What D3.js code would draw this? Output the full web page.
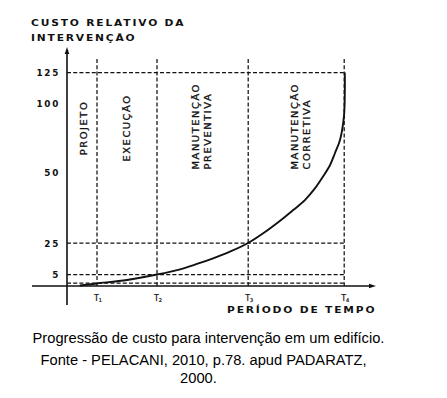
<!DOCTYPE html>
<html><head><meta charset="utf-8">
<script src="https://cdn.jsdelivr.net/npm/d3@7"></script>
<style>
html,body{margin:0;padding:0;background:#fff;}
svg{display:block;}
.wide{font-family:"DejaVu Sans",sans-serif;fill:#111;}
.cap{font-family:"Liberation Sans",Arial,sans-serif;fill:#000;font-size:14.7px;}
</style></head>
<body>
<script>
// ---------- data ----------
const yTitle = ["CUSTO RELATIVO DA", "INTERVENÇÃO"];
const xTitle = "PERÍODO DE TEMPO";
const yTicks = [5, 25, 50, 100, 125];
const yGridLevels = [1.2, 5, 25, 125];
const timeMarks = [1, 3, 6.04, 9.24];            // T1..T4
const timeLabels = ["1", "2", "3", "4"];
const phaseLabels = [["PROJETO"], ["EXECUÇÃO"], ["MANUTENÇÃO", "PREVENTIVA"], ["MANUTENÇÃO", "CORRETIVA"]];
const curveT =    [0.43, 1.0, 2.0, 3.0, 3.77, 4.33, 4.87, 5.43, 6.04, 6.54, 7.21, 7.54, 7.93, 8.27, 8.54, 8.77, 8.93, 9.1, 9.23, 9.26, 9.26];
const curveCost = [0.2,  1.1, 2.6, 5,   8.3,  11.7, 15.3, 19.5, 25,   28.4, 33.7, 36.6, 40.1, 44.3, 48.5, 55.1, 63.6, 73.2, 89.9, 108, 125];
const caption = ["Progressão de custo para intervenção em um edifício.",
                 "Fonte - PELACANI, 2010, p.78. apud PADARATZ,",
                 "2000."];

// ---------- layout ----------
const W = 447, H = 398;
const svg = d3.select("body").append("svg").attr("width", W).attr("height", H);

const x = d3.scaleLinear().domain([0, 10]).range([67, 367]);
// schematic (non-uniform) cost axis
const y = d3.scaleLinear().domain([0, 5, 25, 50, 100, 125]).range([286, 274.5, 243, 172, 103, 72.5]);

const ink = "#111";
const dash = "4,2.2";

function stretch(sel, f) {
  sel.each(function () {
    const L = this.getComputedTextLength();
    d3.select(this).attr("textLength", L * f).attr("lengthAdjust", "spacingAndGlyphs");
  });
}

// horizontal dashed guides
svg.append("g").selectAll("line").data(yGridLevels).join("line")
  .attr("x1", x(0)).attr("x2", x(timeMarks[3]))
  .attr("y1", d => y(d)).attr("y2", d => y(d))
  .attr("stroke", ink).attr("stroke-width", 1.25).attr("stroke-dasharray", dash);

// vertical dashed guides
svg.append("g").selectAll("line").data(timeMarks).join("line")
  .attr("x1", d => x(d)).attr("x2", d => x(d))
  .attr("y1", 59).attr("y2", y(0))
  .attr("stroke", ink).attr("stroke-width", 1.25).attr("stroke-dasharray", dash);

// axes lines
svg.append("line").attr("x1", x(0)).attr("x2", x(0)).attr("y1", 52).attr("y2", 305)
  .attr("stroke", ink).attr("stroke-width", 1.6);
svg.append("path").attr("d", `M${x(0)},47 L${x(0) - 2.3},54 L${x(0) + 2.3},54 Z`).attr("fill", ink);
svg.append("line").attr("x1", 32).attr("x2", 370).attr("y1", y(0)).attr("y2", y(0))
  .attr("stroke", ink).attr("stroke-width", 1.6);
svg.append("path").attr("d", `M376,${y(0)} L369,${y(0) - 2.3} L369,${y(0) + 2.3} Z`).attr("fill", ink);

// y tick labels via axis
const yAxis = svg.append("g").attr("transform", `translate(60,0)`)
  .call(d3.axisLeft(y).tickValues(yTicks).tickSize(0).tickPadding(0).tickFormat(d3.format("d")));
yAxis.select(".domain").remove();
yAxis.selectAll("text").attr("class", "wide").attr("font-size", 8.8).attr("font-weight", "bold")
  .attr("letter-spacing", "1.7px").attr("dy", "0.36em").attr("fill", "#111");

// x tick labels T1..T4
const xt = svg.append("g").selectAll("text").data(timeMarks).join("text")
  .attr("class", "wide").attr("x", d => x(d) + 1).attr("y", 300.5)
  .attr("text-anchor", "middle").attr("font-size", 8).attr("stroke", "#111").attr("stroke-width", 0.2);
xt.append("tspan").text("T");
xt.append("tspan").attr("font-size", 5).attr("dy", 1.5).text((d, i) => timeLabels[i]);

// curve
const pts = curveT.map((t, i) => [x(t), y(curveCost[i])]);
svg.append("path").attr("d", d3.line().curve(d3.curveCatmullRom.alpha(0.5))(pts))
  .attr("fill", "none").attr("stroke", ink).attr("stroke-width", 1.9);

// phase labels (rotated)
const bounds = [0].concat(timeMarks);
const nudge = [2, 0, -1, 4.5];
phaseLabels.forEach((lines, i) => {
  const mid = (x(bounds[i]) + x(bounds[i + 1])) / 2 + nudge[i];
  lines.forEach((txt, j) => {
    const xc = mid + (j - (lines.length - 1) / 2) * 12.5;
    const multi = lines.length > 1;
    const yc = multi ? 169.5 : 128;
    const t = svg.append("text").attr("class", "wide")
      .attr("transform", `translate(${xc},${yc}) rotate(-90)`)
      .attr("text-anchor", multi ? "start" : "middle")
      .attr("dy", "0.36em").attr("font-size", 9).attr("letter-spacing", "1.4px")
      .attr("stroke", "#111").attr("stroke-width", 0.3)
      .text(txt);
    stretch(t, 1.1);
  });
});

// axis titles
yTitle.forEach((s, i) => {
  const t = svg.append("text").attr("class", "wide").attr("x", 31).attr("y", 25.5 + i * 15.5)
    .attr("font-size", 9.4).attr("font-weight", "bold").attr("letter-spacing", "1.6px").text(s);
  stretch(t, 1.14);
});
const xtt = svg.append("text").attr("class", "wide").attr("x", 227).attr("y", 313)
  .attr("font-size", 9.4).attr("font-weight", "bold").attr("letter-spacing", "1.6px").text(xTitle);
stretch(xtt, 1.14);

// caption
svg.append("g").selectAll("text").data(caption).join("text").attr("class", "cap")
  .attr("x", (d, i) => [208.5, 203.5, 198.5][i]).attr("y", (d, i) => [343, 365, 383][i])
  .attr("text-anchor", "middle").text(d => d);
</script>
</body></html>
